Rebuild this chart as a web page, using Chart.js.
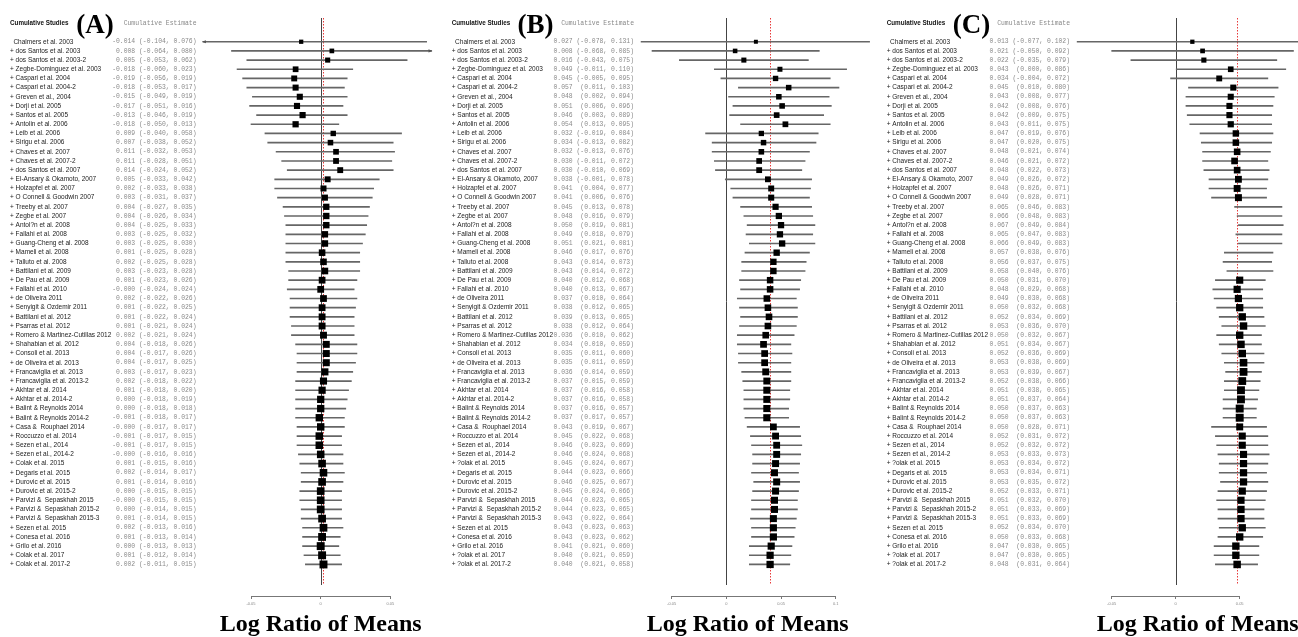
<!DOCTYPE html>
<html><head><meta charset="utf-8">
<script src="https://cdn.jsdelivr.net/npm/chart.js@4.4.1/dist/chart.umd.min.js"></script>
<style>
html,body{margin:0;padding:0;background:#fff;overflow:hidden}
#wrap{position:relative;width:1298px;height:637px;background:#fff}
canvas{position:absolute;left:0;top:0}
</style>
</head><body>
<div id="wrap">
<canvas id="cA" width="1298" height="637"></canvas>
<canvas id="cB" width="1298" height="637"></canvas>
<canvas id="cC" width="1298" height="637"></canvas>
</div>
<script>
const studies = [
"Chalmers et al. 2003","+ dos Santos et al. 2003","+ dos Santos et al. 2003-2","+ Zegbe-Dominguez et al. 2003",
"+ Caspari et al. 2004","+ Caspari et al. 2004-2","+ Greven et al., 2004","+ Dorji et al. 2005","+ Santos et al. 2005",
"+ Antolin et al. 2006","+ Leib et al. 2006","+ Sirigu et al. 2006","+ Chaves et al. 2007","+ Chaves et al. 2007-2",
"+ dos Santos et al. 2007","+ El-Ansary & Okamoto, 2007","+ Holzapfel et al. 2007","+ O Connell & Goodwin 2007",
"+ Treeby et al. 2007","+ Zegbe et al. 2007","+ Antol?n et al. 2008","+ Fallahi et al. 2008","+ Guang-Cheng et al. 2008",
"+ Mameli et al. 2008","+ Talluto et al. 2008","+ Battilani et al. 2009","+ De Pau et al. 2009","+ Fallahi et al. 2010",
"+ de Oliveira 2011","+ Senyigit & Ozdemir 2011","+ Battilani et al. 2012","+ Psarras et al. 2012",
"+ Romero & Martinez-Cutillas 2012","+ Shahabian et al. 2012","+ Consoli et al. 2013","+ de Oliveira et al. 2013",
"+ Francaviglia et al. 2013","+ Francaviglia et al. 2013-2","+ Akhtar et al. 2014","+ Akhtar et al. 2014-2",
"+ Balint & Reynolds 2014","+ Balint & Reynolds 2014-2","+ Casa &  Rouphael 2014","+ Roccuzzo et al. 2014",
"+ Sezen et al., 2014","+ Sezen et al., 2014-2","+ ?olak et al. 2015","+ Degaris et al. 2015","+ Durovic et al. 2015",
"+ Durovic et al. 2015-2","+ Parvizi &  Sepaskhah 2015","+ Parvizi &  Sepaskhah 2015-2","+ Parvizi &  Sepaskhah 2015-3",
"+ Sezen et al. 2015","+ Conesa et al. 2016","+ Grilo et al. 2016","+ ?olak et al. 2017","+ ?olak et al. 2017-2"
];
const studiesA = studies.map(s => s.replace('?olak', 'Colak'));

const estA = [-0.014,0.008,0.005,-0.018,-0.019,-0.018,-0.015,-0.017,-0.013,-0.018,
0.009,0.007,0.011,0.011,0.014,0.005,0.002,0.003,0.004,0.004,
0.004,0.003,0.003,0.001,0.002,0.003,0.001,-0,0.002,0.001,
0.001,0.001,0.002,0.004,0.004,0.004,0.003,0.002,0.001,0.000,
0.000,-0.001,-0,-0.001,-0.001,-0,0.001,0.002,0.001,0.000,
-0,0.000,0.001,0.002,0.001,0.000,0.001,0.002];
const lowerA = [-0.104,-0.064,-0.053,-0.060,-0.056,-0.053,-0.049,-0.051,-0.046,-0.050,
-0.040,-0.038,-0.032,-0.028,-0.024,-0.033,-0.033,-0.031,-0.027,-0.026,
-0.025,-0.025,-0.025,-0.025,-0.025,-0.023,-0.023,-0.024,-0.022,-0.022,
-0.022,-0.021,-0.021,-0.018,-0.017,-0.017,-0.017,-0.018,-0.018,-0.018,
-0.018,-0.018,-0.017,-0.017,-0.017,-0.016,-0.015,-0.014,-0.014,-0.015,
-0.015,-0.014,-0.014,-0.013,-0.013,-0.013,-0.012,-0.011];
const upperA = [0.076,0.080,0.062,0.023,0.019,0.017,0.019,0.016,0.019,0.013,
0.058,0.052,0.053,0.051,0.052,0.042,0.038,0.037,0.035,0.034,
0.033,0.032,0.030,0.028,0.028,0.028,0.026,0.024,0.026,0.025,
0.024,0.024,0.024,0.026,0.026,0.025,0.023,0.022,0.020,0.019,
0.018,0.017,0.017,0.015,0.015,0.016,0.016,0.017,0.016,0.015,
0.015,0.015,0.015,0.016,0.014,0.013,0.014,0.015];

const estB = [0.027,0.008,0.016,0.049,0.045,0.057,0.048,0.051,0.046,0.054,
0.032,0.034,0.032,0.030,0.030,0.038,0.041,0.041,0.045,0.048,
0.050,0.049,0.051,0.046,0.043,0.043,0.040,0.040,0.037,0.038,
0.039,0.038,0.036,0.034,0.035,0.035,0.036,0.037,0.037,0.037,
0.037,0.037,0.043,0.045,0.046,0.046,0.045,0.044,0.046,0.045,
0.044,0.044,0.043,0.043,0.043,0.041,0.040,0.040];
const lowerB = [-0.078,-0.068,-0.043,-0.011,-0.005,0.011,0.002,0.006,0.003,0.013,
-0.019,-0.013,-0.013,-0.011,-0.010,-0.001,0.004,0.006,0.013,0.016,
0.019,0.018,0.021,0.017,0.014,0.014,0.012,0.013,0.010,0.012,
0.013,0.012,0.010,0.010,0.011,0.011,0.014,0.015,0.016,0.016,
0.016,0.017,0.019,0.022,0.023,0.024,0.024,0.023,0.025,0.024,
0.023,0.023,0.022,0.023,0.023,0.021,0.021,0.021];
const upperB = [0.131,0.085,0.075,0.110,0.095,0.103,0.094,0.096,0.089,0.095,
0.084,0.082,0.076,0.072,0.069,0.078,0.077,0.076,0.078,0.079,
0.081,0.079,0.081,0.076,0.073,0.072,0.068,0.067,0.064,0.065,
0.065,0.064,0.062,0.059,0.060,0.059,0.059,0.059,0.058,0.058,
0.057,0.057,0.067,0.068,0.069,0.068,0.067,0.066,0.067,0.066,
0.065,0.065,0.064,0.063,0.062,0.060,0.059,0.058];

const estC = [0.013,0.021,0.022,0.043,0.034,0.045,0.043,0.042,0.042,0.043,
0.047,0.047,0.048,0.046,0.048,0.049,0.048,0.049,0.065,0.066,
0.067,0.065,0.066,0.057,0.056,0.058,0.050,0.048,0.049,0.050,
0.052,0.053,0.050,0.051,0.052,0.053,0.053,0.052,0.051,0.051,
0.050,0.050,0.050,0.052,0.052,0.053,0.053,0.053,0.053,0.052,
0.051,0.051,0.051,0.052,0.050,0.047,0.047,0.048];
const lowerC = [-0.077,-0.050,-0.035,0.000,-0.004,0.010,0.008,0.008,0.009,0.011,
0.019,0.020,0.021,0.021,0.022,0.026,0.026,0.028,0.046,0.048,
0.049,0.047,0.049,0.038,0.037,0.040,0.031,0.029,0.030,0.032,
0.034,0.036,0.032,0.034,0.036,0.038,0.039,0.038,0.038,0.037,
0.037,0.037,0.028,0.031,0.032,0.033,0.034,0.034,0.035,0.033,
0.032,0.033,0.033,0.034,0.033,0.030,0.030,0.031];
const upperC = [0.102,0.092,0.079,0.086,0.072,0.080,0.077,0.076,0.075,0.075,
0.076,0.075,0.074,0.072,0.073,0.072,0.071,0.071,0.083,0.083,
0.084,0.083,0.083,0.076,0.075,0.076,0.070,0.068,0.068,0.068,
0.069,0.070,0.067,0.067,0.069,0.069,0.067,0.066,0.065,0.064,
0.063,0.063,0.071,0.072,0.072,0.073,0.072,0.071,0.072,0.071,
0.070,0.069,0.069,0.070,0.068,0.065,0.065,0.064];

const ticksA = [-0.05, 0, 0.05];
const tickLabelsA = ['-0.05', '0', '0.05'];
const ticksB = [-0.05, 0, 0.05, 0.1];
const tickLabelsB = ['-0.05', '0', '0.05', '0.1'];
const ticksC = [-0.05, 0, 0.05];
const tickLabelsC = ['-0.05', '0', '0.05'];

const panels = [
  { id:'cA', tag:'(A)', names:studiesA, est:estA, lo:lowerA, hi:upperA, ticks:ticksA, tickLabels:tickLabelsA,
    area:[251.0, 390.4], axis:[-0.05, 0.05], xlim:[-0.0845, 0.0795], nameX:10, estRight:196.5, tagX:95, titleShift:0 },
  { id:'cB', tag:'(B)', names:studies, est:estB, lo:lowerB, hi:upperB, ticks:ticksB, tickLabels:tickLabelsB,
    area:[671.7, 835.7], axis:[-0.05, 0.1], xlim:[-0.09, 0.14], nameX:451.7, estRight:634, tagX:535.5, titleShift:-6 },
  { id:'cC', tag:'(C)', names:studies, est:estC, lo:lowerC, hi:upperC, ticks:ticksC, tickLabels:tickLabelsC,
    area:[1111.7, 1239.7], axis:[-0.05, 0.05], xlim:[-0.09, 0.12], nameX:886.7, estRight:1070, tagX:971.5, titleShift:22 }
];

const SANS = '"Liberation Sans", Arial, sans-serif';
const MONO = '"Liberation Mono", "Courier New", monospace';
const SERIF = '"Liberation Serif", "Times New Roman", serif';

function f3(v) { return (v < 0 || Object.is(v, -0)) ? '-' + Math.abs(v).toFixed(3) : v.toFixed(3); }
function estText(e, l, h) { return f3(e) + ' ' + ('(' + f3(l)).padStart(7) + ', ' + f3(h) + ')'; }

function makeChart(p) {
  const rows = p.est.map((_, i) => i);
  const seg = rows.map(i => ({ x: [Math.max(p.lo[i], p.xlim[0]), Math.min(p.hi[i], p.xlim[1])], y: i }));
  const pts = rows.map(i => ({ x: p.est[i], y: i }));
  const radii = rows.map(i => (1.0 + 1.9 * Math.log(1 / (p.hi[i] - p.lo[i]))) / Math.SQRT2);
  const pooled = p.est[p.est.length - 1];

  const plugin = {
    id: 'forest' + p.id,
    beforeDatasetsDraw(chart) {
      const { ctx, chartArea: a, scales: { x } } = chart;
      const yb = a.bottom - 11;
      ctx.save();
      ctx.lineWidth = 1;
      ctx.strokeStyle = '#444';
      const x0 = Math.round(x.getPixelForValue(0)) + 0.5;
      ctx.beginPath(); ctx.moveTo(x0, a.top); ctx.lineTo(x0, yb); ctx.stroke();
      ctx.strokeStyle = '#e83a3a';
      ctx.setLineDash([1.5, 1.5]);
      const xp = Math.round(x.getPixelForValue(pooled)) + 0.5;
      ctx.beginPath(); ctx.moveTo(xp, a.top); ctx.lineTo(xp, yb); ctx.stroke();
      ctx.restore();
    },
    afterDraw(chart) {
      const { ctx, chartArea: a, scales: { x, y } } = chart;
      ctx.save();
      ctx.textBaseline = 'middle';
      const hy = y.getPixelForValue(-2);
      ctx.fillStyle = '#111';
      ctx.font = 'bold 6.3px ' + SANS;
      ctx.textAlign = 'left';
      ctx.fillText('Cumulative Studies', p.nameX, hy);
      ctx.fillStyle = '#888';
      ctx.font = '6.4px ' + MONO;
      ctx.textAlign = 'right';
      ctx.fillText('Cumulative Estimate', p.estRight, hy);
      ctx.fillStyle = '#000';
      ctx.font = 'bold 27px ' + SERIF;
      ctx.textAlign = 'center';
      ctx.fillText(p.tag, p.tagX, y.getPixelForValue(-1.7));

      rows.forEach(i => {
        const yy = y.getPixelForValue(i);
        ctx.fillStyle = '#222';
        ctx.font = '6.5px ' + SANS;
        ctx.textAlign = 'left';
        ctx.fillText(p.names[i], p.nameX + (i === 0 ? 3.4 : 0), yy);
        ctx.fillStyle = '#8a8a8a';
        ctx.font = '6.4px ' + MONO;
        ctx.textAlign = 'right';
        ctx.fillText(estText(p.est[i], p.lo[i], p.hi[i]), p.estRight, yy);
        ctx.fillStyle = '#555';
        if (p.lo[i] < p.xlim[0]) {
          const xx = x.getPixelForValue(p.xlim[0]);
          ctx.beginPath(); ctx.moveTo(xx - 1, yy); ctx.lineTo(xx + 3, yy - 1.6); ctx.lineTo(xx + 3, yy + 1.6); ctx.closePath(); ctx.fill();
        }
        if (p.hi[i] > p.xlim[1]) {
          const xx = x.getPixelForValue(p.xlim[1]);
          ctx.beginPath(); ctx.moveTo(xx + 1, yy); ctx.lineTo(xx - 3, yy - 1.6); ctx.lineTo(xx - 3, yy + 1.6); ctx.closePath(); ctx.fill();
        }
      });

      ctx.fillStyle = '#000';
      ctx.font = 'bold 24px ' + SERIF;
      ctx.textAlign = 'center';
      ctx.textBaseline = 'alphabetic';
      ctx.fillText('Log Ratio of Means', (a.left + a.right) / 2 + p.titleShift, 631);
      ctx.restore();
    }
  };

  return new Chart(document.getElementById(p.id), {
    type: 'bar',
    data: { datasets: [
      { type: 'bar', data: seg, indexAxis: 'y', backgroundColor: '#666666', borderWidth: 0, barThickness: 1, clip: false, order: 2 },
      { type: 'scatter', data: pts, pointStyle: 'rect', pointRadius: radii, backgroundColor: '#000', borderWidth: 0, clip: false, order: 1 }
    ]},
    options: {
      indexAxis: 'y',
      responsive: false, animation: false, devicePixelRatio: 1, events: [],
      layout: { padding: { left: p.area[0], right: 1298 - p.area[1], top: 18, bottom: 29.2 } },
      plugins: { legend: { display: false }, tooltip: { enabled: false } },
      scales: {
        x: {
          type: 'linear', min: p.axis[0], max: p.axis[1], offset: false,
          afterBuildTicks: s => { s.ticks = p.ticks.map(v => ({ value: v })); },
          ticks: { callback: (v, i) => p.tickLabels[i], font: { size: 4, family: SANS }, color: '#888', padding: 2, maxRotation: 0, autoSkip: false },
          grid: { drawOnChartArea: false, drawTicks: true, tickLength: 3, color: '#777', offset: false },
          border: { display: true, color: '#777', width: 1 },
          title: { display: false }
        },
        y: { type: 'linear', reverse: true, display: false, offset: false, grid: { offset: false }, min: -2.59, max: 60.44 }
      }
    },
    plugins: [plugin]
  });
}
panels.forEach(makeChart);
</script>
</body></html>
